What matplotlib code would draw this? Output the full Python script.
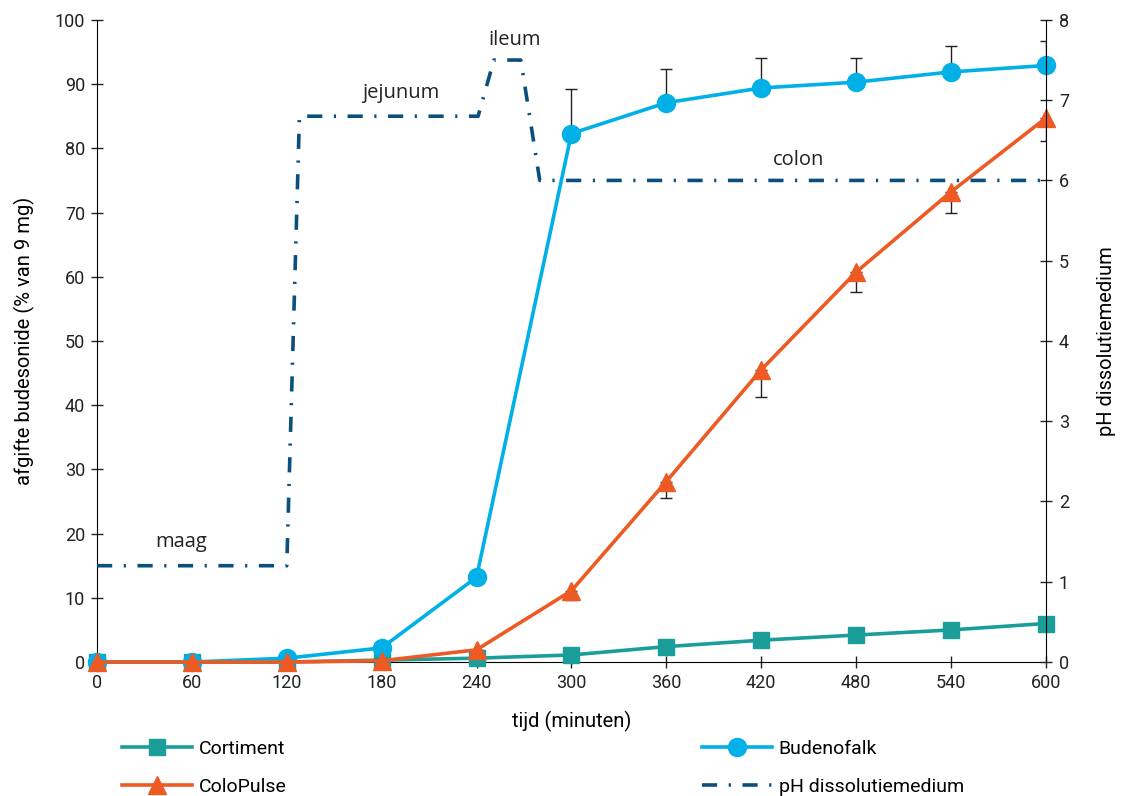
import numpy as np
import matplotlib
matplotlib.use('Agg')
import matplotlib.pyplot as plt
from matplotlib.lines import Line2D

plt.rcParams['font.family'] = ['Roboto', 'DejaVu Sans']

# tijd in minuten
tijd = [0, 60, 120, 180, 240, 300, 360, 420, 480, 540, 600]

# afgifte (% van 9 mg)
budenofalk = [0.0, 0.0, 0.6, 2.2, 13.2, 82.3, 87.1, 89.4, 90.3, 91.9, 92.9]
budenofalk_err = [0, 0, 0, 0, 0, 7.0, 5.2, 4.7, 3.8, 4.1, 3.8]
colopulse = [0.0, 0.0, 0.0, 0.2, 1.9, 11.1, 28.1, 45.5, 60.7, 73.2, 84.7]
colopulse_err = [0, 0, 0, 0, 0, 1.4, 2.6, 4.2, 3.1, 3.3, 3.5]
cortiment = [0.0, 0.0, 0.0, 0.3, 0.6, 1.1, 2.4, 3.4, 4.2, 5.0, 6.0]

# pH profiel van het dissolutiemedium
ph_tijd = [0, 120, 128, 241, 251, 268, 280, 600]
ph_waarde = [1.2, 1.2, 6.8, 6.8, 7.5, 7.5, 6.0, 6.0]

# zones
zone_namen = ['maag', 'jejunum', 'ileum', 'colon']
zone_x = [53, 192, 264, 444]
zone_y = [18.7, 88.6, 96.9, 78.2]

c_bude = '#00B0E6'
c_colo = '#EE5A24'
c_cort = '#1B9E99'
c_ph = '#0B4F7C'
ph_stijl = (0, (4.2, 3.2, 0.6, 3.2))

fig = plt.figure(figsize=(11.22, 7.96), dpi=100)
ax = fig.add_axes([0.0865, 0.1683, 0.8455, 0.8067])
ax2 = ax.twinx()

ax.errorbar(tijd, budenofalk, yerr=[np.zeros(len(tijd)), budenofalk_err],
            fmt='none', ecolor='#222222', elinewidth=1, capsize=4.5, capthick=1, zorder=2)
ax.errorbar(tijd, colopulse, yerr=[colopulse_err, np.zeros(len(tijd))],
            fmt='none', ecolor='#222222', elinewidth=1, capsize=4.5, capthick=1, zorder=2)

ax.plot(tijd, cortiment, color=c_cort, lw=2.6, marker='s', ms=12, clip_on=False, zorder=3,
        label='Cortiment')
ax.plot(tijd, budenofalk, color=c_bude, lw=2.6, marker='o', ms=13, clip_on=False, zorder=4,
        label='Budenofalk')
ax.plot(tijd, colopulse, color=c_colo, lw=2.6, marker='^', ms=13, clip_on=False, zorder=5,
        label='ColoPulse')

ax2.plot(ph_tijd, ph_waarde, color=c_ph, lw=2.6, linestyle=ph_stijl, clip_on=False)

for naam, zx, zy in zip(zone_namen, zone_x, zone_y):
    ax.text(zx, zy, naam, fontsize=14.5, family=['Open Sans', 'DejaVu Sans'],
            ha='center', va='center', color='#222222')

ax.set_xlim(0, 600)
ax.set_ylim(0, 100)
ax2.set_ylim(0, 8)
ax.set_xticks(tijd)
ax.set_yticks(range(0, 101, 10))
ax2.set_yticks(range(0, 9))

for a in (ax, ax2):
    a.spines['top'].set_visible(False)
    a.tick_params(direction='inout', length=9, width=1, labelsize=13, colors='#222222')
ax.spines['right'].set_visible(False)
ax2.spines['left'].set_visible(False)
ax2.spines['bottom'].set_visible(False)
ax.tick_params(axis='x', pad=4)
ax.tick_params(axis='y', pad=4)
ax2.tick_params(axis='y', pad=5)

ax.set_xlabel('tijd (minuten)', fontsize=14.5, labelpad=14)
ax.set_ylabel('afgifte budesonide (% van 9 mg)', fontsize=14.5, labelpad=14)
ax2.set_ylabel('pH dissolutiemedium', fontsize=14.5, labelpad=20)

h_cort = Line2D([], [], color=c_cort, lw=2.6, marker='s', ms=12)
h_colo = Line2D([], [], color=c_colo, lw=2.6, marker='^', ms=13)
h_bude = Line2D([], [], color=c_bude, lw=2.6, marker='o', ms=13)
h_ph = Line2D([], [], color=c_ph, lw=2.6, linestyle=ph_stijl)

leg_kw = dict(frameon=False, fontsize=14, handlelength=3.6, handletextpad=0.35,
              labelspacing=1.0, numpoints=1, loc='upper left')
leg1 = fig.legend([h_cort, h_colo], ['Cortiment', 'ColoPulse'],
                  bbox_to_anchor=(0.093, 0.092), **leg_kw)
leg2 = fig.legend([h_bude, h_ph], ['Budenofalk', 'pH dissolutiemedium'],
                  bbox_to_anchor=(0.610, 0.092), **leg_kw)

fig.savefig('out.png', dpi=100)
